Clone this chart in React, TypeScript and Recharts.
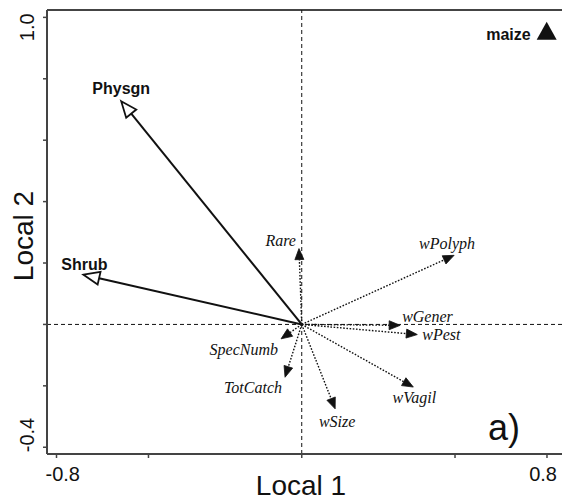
import { ScatterChart, Scatter, XAxis, YAxis, ReferenceLine } from "recharts";

// environmental vectors (solid, open heads)
const ENV_NAMES = ["Physgn", "Shrub"];
const ENV_X = [-0.589, -0.712];
const ENV_Y = [0.727, 0.162];

// response vectors (dotted, filled heads)
const SP_NAMES = ["Rare", "SpecNumb", "TotCatch", "wSize", "wVagil", "wPolyph", "wGener", "wPest"];
const SP_X = [-0.009, -0.0675, -0.0545, 0.109, 0.364, 0.497, 0.321, 0.377];
const SP_Y = [0.247, -0.047, -0.172, -0.275, -0.204, 0.225, -0.003, -0.033];

// sample
const SAMPLE_NAMES = ["maize"];
const SAMPLE_X = [0.799];
const SAMPLE_Y = [0.955];

const X_TICKS = [-0.8, -0.5, 0, 0.5, 0.8];
const X_LABELS = ["-0.8", "", "", "", "0.8"];
const Y_TICKS = [-0.4, -0.2, 0, 0.2, 0.4, 0.6, 0.8, 1.0];
const Y_LABELS = ["-0.4", "", "", "", "", "", "", "1.0"];

const X_DOMAIN = [-0.831, 0.849];
const Y_DOMAIN = [-0.422, 1.024];

const SANS = "'Liberation Sans', Arial, sans-serif";
const SERIF = "'Liberation Serif', 'Times New Roman', serif";
const INK = "#111";

// label placement relative to the arrow tip (px)
const LABEL_POS: Record<string, { anchor: "start" | "middle" | "end"; dx: number; dy: number }> = {
  Physgn: { anchor: "middle", dx: 0, dy: -7 },
  Shrub: { anchor: "middle", dx: 1, dy: -5 },
  Rare: { anchor: "end", dx: -3, dy: -3 },
  SpecNumb: { anchor: "end", dx: -3, dy: 16 },
  TotCatch: { anchor: "end", dx: -3, dy: 16 },
  wSize: { anchor: "middle", dx: 2, dy: 18 },
  wVagil: { anchor: "middle", dx: 1, dy: 16 },
  wPolyph: { anchor: "middle", dx: -7, dy: -6 },
  wGener: { anchor: "start", dx: 2, dy: -3 },
  wPest: { anchor: "start", dx: 5, dy: 5 },
};

const env = ENV_NAMES.map((name, i) => ({ name, x: ENV_X[i], y: ENV_Y[i] }));
const sp = SP_NAMES.map((name, i) => ({ name, x: SP_X[i], y: SP_Y[i] }));
const samples = SAMPLE_NAMES.map((name, i) => ({ name, x: SAMPLE_X[i], y: SAMPLE_Y[i] }));

function arrow(name: string, solid: boolean) {
  return (p: any) => {
    const { x1, y1, x2, y2 } = p;
    const dx = x2 - x1, dy = y2 - y1;
    const len = Math.hypot(dx, dy) || 1;
    const ux = dx / len, uy = dy / len;
    const L = solid ? 16 : 11;
    const W = solid ? 6.5 : 4.5;
    const bx = x2 - ux * L, by = y2 - uy * L;
    const pts = `${x2},${y2} ${bx - uy * W},${by + ux * W} ${bx + uy * W},${by - ux * W}`;
    const lp = LABEL_POS[name];
    return (
      <g>
        <line x1={x1} y1={y1} x2={bx} y2={by} stroke={INK}
          strokeWidth={solid ? 2 : 1.4} strokeDasharray={solid ? undefined : "1.6 1.6"} />
        <polygon points={pts} fill={solid ? "#fff" : INK} stroke={INK} strokeWidth={solid ? 1.8 : 0.8} strokeLinejoin="miter" />
        <text x={x2 + lp.dx} y={y2 + lp.dy} textAnchor={lp.anchor}
          fontFamily={solid ? SANS : SERIF} fontWeight={solid ? 700 : 400}
          fontStyle={solid ? "normal" : "italic"} fontSize={16} fill={INK}>{name}</text>
      </g>
    );
  };
}

function XTick({ x, y, payload }: any) {
  const i = X_TICKS.indexOf(payload.value);
  const label = X_LABELS[i];
  if (!label) return null;
  const first = i === 0;
  return (
    <text x={first ? x - 11 : x + 10} y={y + 21} textAnchor={first ? "start" : "end"}
      fontFamily={SANS} fontSize={20} fill={INK}>{label}</text>
  );
}

function YTick({ x, y, payload }: any) {
  const i = Y_TICKS.indexOf(payload.value);
  const label = Y_LABELS[i];
  if (!label) return null;
  const first = i === 0;
  const bx = x - 7;
  const by = first ? y + 5 : y - 4;
  return (
    <text x={bx} y={by} transform={`rotate(-90, ${bx}, ${by})`} textAnchor={first ? "start" : "end"}
      fontFamily={SANS} fontSize={20} fill={INK}>{label}</text>
  );
}

function Triangle({ cx, cy, payload }: any) {
  return (
    <g>
      <polygon points={`${cx},${cy - 9.5} ${cx - 10},${cy + 8.5} ${cx + 10},${cy + 8.5}`} fill={INK} />
      <text x={cx - 16} y={cy + 9} textAnchor="end" fontFamily={SANS} fontWeight={700} fontSize={16} fill={INK}>
        {payload.name}
      </text>
    </g>
  );
}

export default function App() {
  return (
    <div style={{ position: "absolute", left: 0, top: 0, width: 562, height: 502, background: "#fff" }}>
      <ScatterChart width={562} height={502} margin={{ top: 10, right: 0, bottom: 0, left: 0 }}>
        <XAxis type="number" dataKey="x" domain={X_DOMAIN} ticks={X_TICKS} allowDataOverflow
          height={48} tick={<XTick />} tickSize={4}
          axisLine={{ stroke: "#444", strokeWidth: 2 }} tickLine={{ stroke: "#444", strokeWidth: 1.5 }} />
        <YAxis type="number" dataKey="y" domain={Y_DOMAIN} ticks={Y_TICKS} allowDataOverflow
          width={47} tick={<YTick />} tickSize={4}
          axisLine={{ stroke: "#444", strokeWidth: 2 }} tickLine={{ stroke: "#444", strokeWidth: 1.5 }} />
        <ReferenceLine y={Y_DOMAIN[1]} stroke="#444" strokeWidth={2} />
        <ReferenceLine x={0} stroke={INK} strokeDasharray="4 3" strokeWidth={1} />
        <ReferenceLine y={0} stroke={INK} strokeDasharray="4 3" strokeWidth={1} />
        {sp.map((d) => (
          <ReferenceLine key={d.name} segment={[{ x: 0, y: 0 }, { x: d.x, y: d.y }]} shape={arrow(d.name, false)} />
        ))}
        {env.map((d) => (
          <ReferenceLine key={d.name} segment={[{ x: 0, y: 0 }, { x: d.x, y: d.y }]} shape={arrow(d.name, true)} />
        ))}
        <Scatter data={samples} shape={<Triangle />} isAnimationActive={false} />
        <text x={301} y={495} textAnchor="middle" fontFamily={SANS} fontSize={28} fill={INK}>Local 1</text>
        <text x={33} y={236} transform="rotate(-90, 33, 236)" textAnchor="middle" fontFamily={SANS} fontSize={28} fill={INK}>Local 2</text>
        <text x={488} y={440} fontFamily={SANS} fontSize={36} fill={INK}>a)</text>
      </ScatterChart>
    </div>
  );
}
